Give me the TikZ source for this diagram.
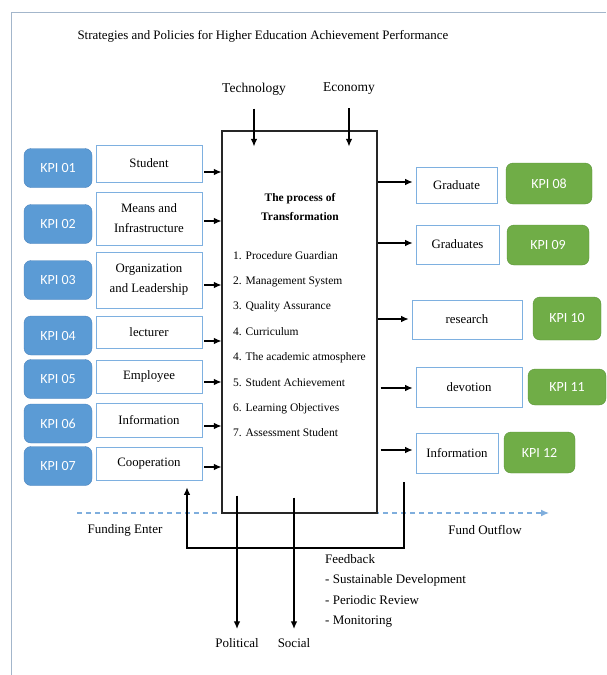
\documentclass[tikz,border=0pt]{standalone}
\usepackage{fontspec}
\setmainfont{Liberation Serif}
\newfontfamily\kpifont{Carlito}
\usepackage{xcolor}
\usetikzlibrary{arrows.meta}

\definecolor{kpibluefill}{HTML}{5B9BD5}
\definecolor{kpiblueline}{HTML}{4A82BC}
\definecolor{kpigreenfill}{HTML}{70AD47}
\definecolor{kpigreenline}{HTML}{5A9438}
\definecolor{itemline}{HTML}{7EB0E0}
\definecolor{fundblue}{HTML}{7FAEDD}
\definecolor{framegray}{HTML}{A3B6CB}

\tikzset{
	kpileft/.style={draw=kpiblueline, fill=kpibluefill, rounded corners=7pt, text=white,
		font=\kpifont\fontsize{14}{16}\selectfont, minimum width=68pt, minimum height=39pt, inner sep=0pt},
	kpiright/.style={kpileft, draw=kpigreenline, fill=kpigreenfill},
	itembox/.style={draw=itemline, line width=0.8pt, fill=white, align=center,
		font=\fontsize{12.8}{20}\selectfont, minimum width=106pt, inner sep=0pt},
	procbox/.style={draw=black!85, line width=1.1pt, minimum width=155pt, minimum height=382pt, inner sep=0pt},
	flow/.style={-{Latex[length=7.5pt,width=6.5pt]}, line width=1.1pt, black},
	fundline/.style={-{Latex[length=8pt,width=7pt]}, fundblue, line width=1.3pt, dash pattern=on 5pt off 4pt},
	lbl/.style={font=\fontsize{13}{16}\selectfont}
}

\begin{document}
\begin{tikzpicture}[x=1pt, y=-1pt]
	\useasboundingbox (0,0) rectangle (606,675);

	% frame and heading
	\draw[framegray, line width=1pt] (11,675) -- (11,12) -- (606,12);
	\node[anchor=west, font=\fontsize{12.9}{15}\selectfont] (heading) at (74,36)
		{Strategies and Policies for Higher Education Achievement Performance};

	% funding flow
	\coordinate (fundin) at (77,513);
	\coordinate (fundout) at (549,513);
	\draw[fundline] (fundin) -- (fundout);
	\node[lbl] (funding) at (125,530) {Funding Enter};
	\node[lbl] (outflow) at (485,530) {Fund Outflow};

	% transformation process
	\node[procbox] (proc) at (299.5,322) {};
	\node[align=center, font=\bfseries\fontsize{11.5}{19}\selectfont] (proctitle) at (300,207)
		{The process of\\Transformation};
	\node[anchor=north west, align=left, inner sep=0pt, font=\fontsize{11.5}{25.4}\selectfont] (steps) at (233,251)
		{1. Procedure Guardian\\2. Management System\\3. Quality Assurance\\4. Curriculum\\4. The academic atmosphere\\5. Student Achievement\\6. Learning Objectives\\7. Assessment Student};

	% environment
	\node[lbl, font=\fontsize{13.5}{16}\selectfont] (tech) at (254,89) {Technology};
	\node[lbl, font=\fontsize{13.5}{16}\selectfont] (econ) at (349,89) {Economy};
	\draw[flow, shorten <=10pt, shorten >=-16pt] (tech.south) -- (tech.south |- proc.north);
	\draw[flow, shorten <=10pt, shorten >=-16pt] (econ.south) -- (econ.south |- proc.north);

	\node[lbl] (pol) at (237,643) {Political};
	\node[lbl] (soc) at (294,643) {Social};
	\draw[flow, shorten <=-18pt, shorten >=6pt] (pol.north |- proc.south) -- (pol.north);
	\draw[flow, shorten <=-16pt, shorten >=6pt] (soc.north |- proc.south) -- (soc.north);

	% inputs
	\foreach \n/\ky/\ly/\lh/\d/\txt in {
		01/168/163.5/37/8.5/Student,
		02/224/218.5/53/2.5/{Means and\\Infrastructure},
		03/280/280/56/5/{Organization\\and Leadership},
		04/335.5/332/32/9/lecturer,
		05/379/376.5/33/5.5/Employee,
		06/423.5/420/34/6/Information,
		07/466/463.5/33/3.5/Cooperation}
	{
		\node[kpileft] (kpi\n) at (58,\ky) {KPI \n};
		\node[itembox, minimum height=\lh pt] (in\n) at (149,\ly) {\txt};
		\coordinate (a\n) at ([yshift=-\d pt]in\n.east);
		\draw[flow, shorten <=2pt] (a\n) -- (a\n -| proc.west);
	}

	% outputs
	\foreach \n/\bx/\by/\bw/\bh/\kx/\ky/\kw/\kh/\d/\s/\txt in {
		08/456.5/185/81/36/549/183.5/86/41/3/0/Graduate,
		09/457.5/244.5/83/39/548/245/82/40/1.5/0/Graduates,
		10/467/319.5/110/39/567/318.5/68/43/0.5/0/research,
		11/469/387/106/40/567/387/78/36/-1/3/devotion,
		12/457/453/82/40/539.5/452.5/71/41/3/3/Information}
	{
		\node[itembox, minimum width=\bw pt, minimum height=\bh pt] (out\n) at (\bx,\by) {\txt};
		\node[kpiright, minimum width=\kw pt, minimum height=\kh pt] (kpi\n) at (\kx,\ky) {KPI \n};
		\coordinate (b\n) at ([xshift=-3pt, yshift=\d pt]out\n.west);
		\draw[flow, shorten <=\s pt] (b\n -| proc.east) -- (b\n);
	}

	% feedback loop
	\coordinate (fbtop) at (404,482);
	\coordinate (fbcorner) at (187,548);
	\draw[flow, shorten >=7pt] (fbtop) |- (fbcorner) -- (fbcorner |- in07.south);
	\node[anchor=north west, align=left, inner sep=0pt, font=\fontsize{13}{20.5}\selectfont] (feedback) at (325,554)
		{Feedback\\- Sustainable Development\\- Periodic Review\\- Monitoring};
\end{tikzpicture}
\end{document}
